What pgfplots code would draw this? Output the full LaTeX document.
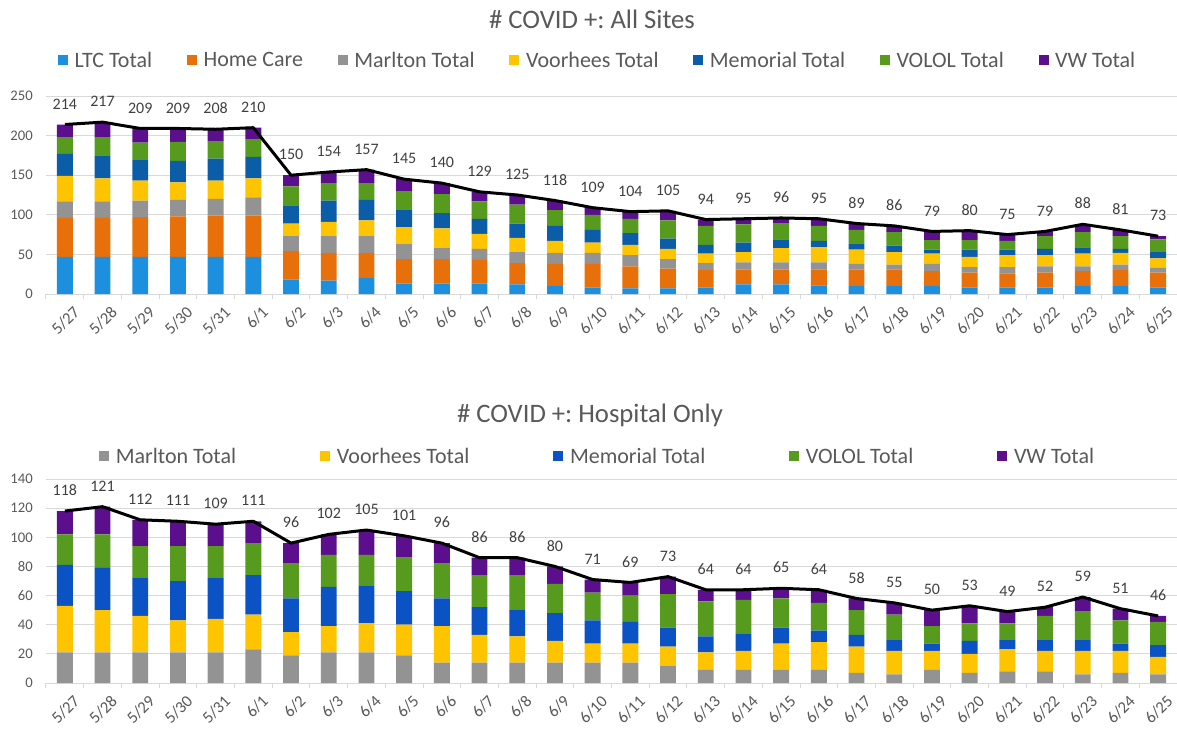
\documentclass[border=0pt]{standalone}
\usepackage{pgfplots}
\pgfplotsset{compat=1.18}
\usepackage{pgfplotstable}
\usepackage{fontspec}
\setmainfont{Carlito}
\frenchspacing

\definecolor{cLTC}{HTML}{1C8FDE}
\definecolor{cHome}{HTML}{E8700A}
\definecolor{cMar}{HTML}{939393}
\definecolor{cVoo}{HTML}{FFC400}
\definecolor{cMem}{HTML}{0C5DA8}
\definecolor{cMemB}{HTML}{0B52C4}
\definecolor{cVOL}{HTML}{569B1D}
\definecolor{cVW}{HTML}{5B0F8D}
\definecolor{txt}{HTML}{595959}
\definecolor{lbl}{HTML}{404040}
\definecolor{gridc}{HTML}{D9D9D9}

\pgfplotstableread{
x LTC Home Mar Voo Mem VOL VW Tot HT
0  47 49 21 32 28 21 16 214 118
1  47 49 21 29 29 23 19 217 121
2  47 50 21 25 26 22 18 209 112
3  47 51 21 22 27 24 17 209 111
4  47 52 21 23 28 22 15 208 109
5  47 52 23 24 27 22 15 210 111
6  18 36 19 16 23 24 14 150 96
7  17 35 21 18 27 22 14 154 102
8  20 32 21 20 26 21 17 157 105
9  13 31 19 21 23 23 15 145 101
10 13 31 14 25 19 24 14 140 96
11 13 30 14 19 19 22 12 129 86
12 12 27 14 18 18 24 12 125 86
13 10 28 14 15 19 20 12 118 80
14 8  30 14 13 16 19 9  109 71
15 7  28 14 13 15 18 9  104 69
16 7  25 12 13 13 23 12 105 73
17 8  22 9  12 11 24 8  94  64
18 12 19 9  13 12 23 7  95  64
19 12 19 9  18 11 20 7  96  65
20 11 20 9  19 8  19 9  95  64
21 10 21 7  18 8  17 8  89  58
22 10 21 6  16 8  17 8  86  55
23 10 19 9  13 5  12 11 79  50
24 8  19 7  13 9  12 12 80  53
25 8  18 8  15 7  11 8  75  49
26 8  19 8  14 8  16 6  79  52
27 10 19 6  16 8  19 10 88  59
28 10 20 7  15 5  16 8  81  51
29 8  19 6  12 8  16 4  73  46
}\datatab

\pgfplotsset{
  sq/.style={legend image code/.code={\fill[##1] (0pt,-3.0pt) rectangle (7.5pt,4.5pt);}},
  base/.style={
    scale only axis, width=848.25pt, xmin=-0.5, xmax=29.5,
    enlargelimits=false,
    axis x line*=bottom, axis y line*=left,
    x axis line style={draw=gridc, line width=0.75pt},
    y axis line style={draw=none},
    xtick={0,...,29},
    xticklabels={5/27,5/28,5/29,5/30,5/31,6/1,6/2,6/3,6/4,6/5,6/6,6/7,6/8,6/9,6/10,6/11,6/12,6/13,6/14,6/15,6/16,6/17,6/18,6/19,6/20,6/21,6/22,6/23,6/24,6/25},
    major x tick style={draw=none},
    minor xtick={-0.5,0.5,...,29.5},
    minor x tick style={draw=gridc, line width=0.75pt},
    minor tick length=4pt, tick align=outside,
    ymajorgrids, major grid style={draw=gridc, line width=0.75pt},
    ytick style={draw=none},
    /pgf/number format/assume math mode=true,
    tick label style={font=\fontsize{11}{13}\selectfont, text=txt},
    xticklabel style={font=\fontsize{12.5}{14}\selectfont, xshift=9pt, yshift=-7pt, rotate=45, anchor=east, inner sep=0pt},
    yticklabel style={anchor=east, inner sep=0pt, xshift=-5.5pt},
    ybar stacked, bar width=0.42,
    legend cell align=left,
    title style={anchor=center, font=\fontsize{20}{24}\selectfont, text=txt},
  },
  lineax/.style={
    scale only axis, width=848.25pt, xmin=-0.5, xmax=29.5,
    enlargelimits=false, hide axis, clip=false,
    /pgf/number format/assume math mode=true,
    nodes near coords,
    every node near coord/.append style={font=\fontsize{12}{14}\selectfont, text=lbl, anchor=south, yshift=7pt},
  },
}

\begin{document}
\begin{tikzpicture}
% ---------- Top: All Sites ----------
\begin{axis}[base, at={(0pt,0pt)}, anchor=south west, height=148.5pt,
  ymin=0, ymax=250, ytick={0,50,...,250},
  title={\# COVID +: All Sites}, title style={at={(0.4828,1.349)}},
  legend style={draw=none, fill=none, at={(0.488,1.178)}, anchor=center,
    legend columns=-1, font=\fontsize{16.5}{19}\selectfont, text=txt,
    /tikz/every odd column/.append style={column sep=3pt},
    /tikz/every even column/.append style={column sep=24pt}},
]
\addplot[fill=cLTC, draw=none, sq] table[x=x, y=LTC] {\datatab};
\addplot[fill=cHome, draw=none, sq] table[x=x, y=Home] {\datatab};
\addplot[fill=cMar, draw=none, sq] table[x=x, y=Mar] {\datatab};
\addplot[fill=cVoo, draw=none, sq] table[x=x, y=Voo] {\datatab};
\addplot[fill=cMem, draw=none, sq] table[x=x, y=Mem] {\datatab};
\addplot[fill=cVOL, draw=none, sq] table[x=x, y=VOL] {\datatab};
\addplot[fill=cVW, draw=none, sq] table[x=x, y=VW] {\datatab};
\legend{LTC Total, Home Care, Marlton Total, Voorhees Total, Memorial Total, VOLOL Total, VW Total}
\end{axis}
\begin{axis}[lineax, at={(0pt,0pt)}, anchor=south west, height=148.5pt, ymin=0, ymax=250]
\addplot[black, line width=2.25pt, line join=round, mark=none] table[x=x, y=Tot] {\datatab};
\end{axis}

% ---------- Bottom: Hospital Only ----------
\begin{axis}[base, at={(0pt,-291.75pt)}, anchor=south west, height=153pt,
  ymin=0, ymax=140, ytick={0,20,...,140},
  title={\# COVID +: Hospital Only}, title style={at={(0.481,1.274)}},
  legend style={draw=none, fill=none, at={(0.488,1.11)}, anchor=center,
    legend columns=-1, font=\fontsize{16.5}{19}\selectfont, text=txt,
    /tikz/every odd column/.append style={column sep=3pt},
    /tikz/every even column/.append style={column sep=61pt}},
]
\addplot[fill=cMar, draw=none, sq] table[x=x, y=Mar] {\datatab};
\addplot[fill=cVoo, draw=none, sq] table[x=x, y=Voo] {\datatab};
\addplot[fill=cMemB, draw=none, sq] table[x=x, y=Mem] {\datatab};
\addplot[fill=cVOL, draw=none, sq] table[x=x, y=VOL] {\datatab};
\addplot[fill=cVW, draw=none, sq] table[x=x, y=VW] {\datatab};
\legend{Marlton Total, Voorhees Total, Memorial Total, VOLOL Total, VW Total}
\end{axis}
\begin{axis}[lineax, at={(0pt,-291.75pt)}, anchor=south west, height=153pt, ymin=0, ymax=140]
\addplot[black, line width=2.25pt, line join=round, mark=none] table[x=x, y=HT] {\datatab};
\end{axis}

\pgfresetboundingbox
\path (-34.5pt,220.5pt) rectangle (848.25pt,-328.5pt);
\end{tikzpicture}
\end{document}
